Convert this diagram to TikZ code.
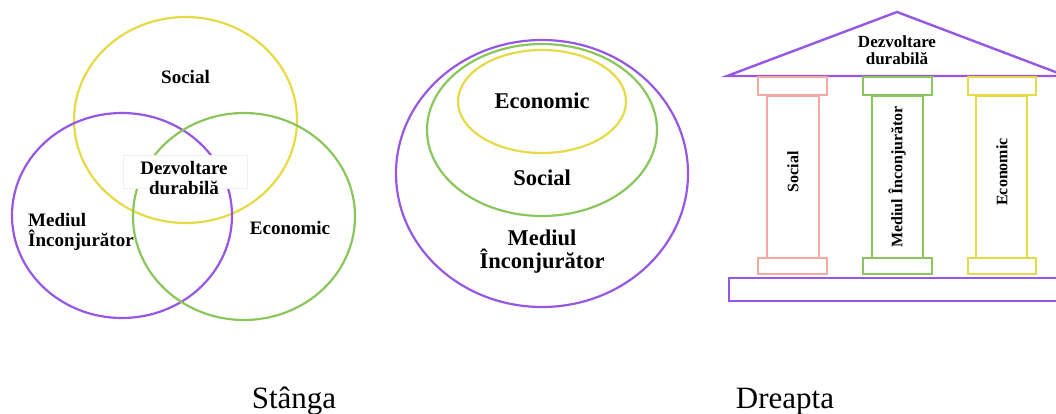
\documentclass[tikz,border=0pt]{standalone}
\usepackage{fontspec}
\setmainfont{Liberation Serif}
\definecolor{cyel}{RGB}{230,218,70}
\definecolor{cgrn}{RGB}{138,198,92}
\definecolor{cpur}{RGB}{150,88,228}
\definecolor{csal}{RGB}{244,170,160}
\tikzset{
  ring/.style={line width=2.2pt},
  lbl/.style={font=\bfseries, align=center, inner sep=0pt},
  colbox/.style={line width=2.2pt},
}
\begin{document}
\begin{tikzpicture}[x=1pt,y=-1pt]
\useasboundingbox (0,0) rectangle (1056,414);
% ---------- left: Venn ----------
\draw[ring,cyel] (185.5,120) ellipse [x radius=111.5pt, y radius=103pt];
\draw[ring,cpur] (122,215.5) ellipse [x radius=110pt, y radius=102.5pt];
\draw[ring,cgrn] (244,216.5) ellipse [x radius=111pt, y radius=103.5pt];
\draw[fill=white,draw=gray!12,line width=0.6pt] (123,155) rectangle (247,188);
\node[lbl,font=\bfseries\fontsize{19}{19}\selectfont] (vsoc) at (185.5,77) {Social};
\node[lbl,font=\bfseries\fontsize{19}{19.5}\selectfont] (vdd) at (184,178) {Dezvoltare\\durabilă};
\node[lbl,align=left,anchor=west,font=\bfseries\fontsize{19}{20.5}\selectfont] (vmed) at (28,232) {Mediul\\Înconjurător};
\node[lbl,font=\bfseries\fontsize{19}{19}\selectfont] (veco) at (290,228) {Economic};
% ---------- middle: nested ----------
\draw[ring,cpur] (542,173.5) ellipse [x radius=146pt, y radius=133.5pt];
\draw[ring,cgrn] (542,130) ellipse [x radius=115pt, y radius=86pt];
\draw[ring,cyel] (542,101.5) ellipse [x radius=84pt, y radius=51.5pt];
\node[lbl,font=\bfseries\fontsize{22.5}{22.5}\selectfont] (neco) at (542,101) {Economic};
\node[lbl,font=\bfseries\fontsize{22.5}{22.5}\selectfont] (nsoc) at (542,178) {Social};
\node[lbl,font=\bfseries\fontsize{22.5}{23}\selectfont] (nmed) at (542,252) {Mediul\\Înconjurător};
% ---------- right: temple ----------
\draw[cpur,line width=2.4pt,line join=miter] (727,76) -- (897,12) -- (1066,76) -- cycle;
\node[lbl,font=\bfseries\fontsize{17}{17.5}\selectfont] (troof) at (897,50) {Dezvoltare\\durabilă};
% columns
\foreach \c/\xa/\xb/\xc/\xd in {csal/758/767/819/827, cgrn/863/872/923/932, cyel/968/976/1027/1036}{
  \draw[colbox,\c] (\xb,96) rectangle (\xc,258);
  \draw[colbox,\c,fill=white] (\xa,77) rectangle (\xd,95);
  \draw[colbox,\c,fill=white] (\xa,258) rectangle (\xd,274);
}
\node[lbl,rotate=90,font=\bfseries\fontsize{16}{16}\selectfont] (tsoc) at (793,172) {Social};
\node[lbl,rotate=90,font=\bfseries\fontsize{16}{16}\selectfont] (tmed) at (897,177) {Mediul Înconjurător};
\node[lbl,rotate=90,font=\bfseries\fontsize{16}{16}\selectfont] (teco) at (1002,172) {Economic};
\draw[cpur,line width=2.4pt] (729,278) rectangle (1070,301);
% ---------- captions ----------
\node[anchor=base,inner sep=0pt,font=\fontsize{31}{31}\selectfont] (capl) at (294,408) {Stânga};
\node[anchor=base,inner sep=0pt,font=\fontsize{31}{31}\selectfont] (capr) at (785,408) {Dreapta};
\end{tikzpicture}
\end{document}
